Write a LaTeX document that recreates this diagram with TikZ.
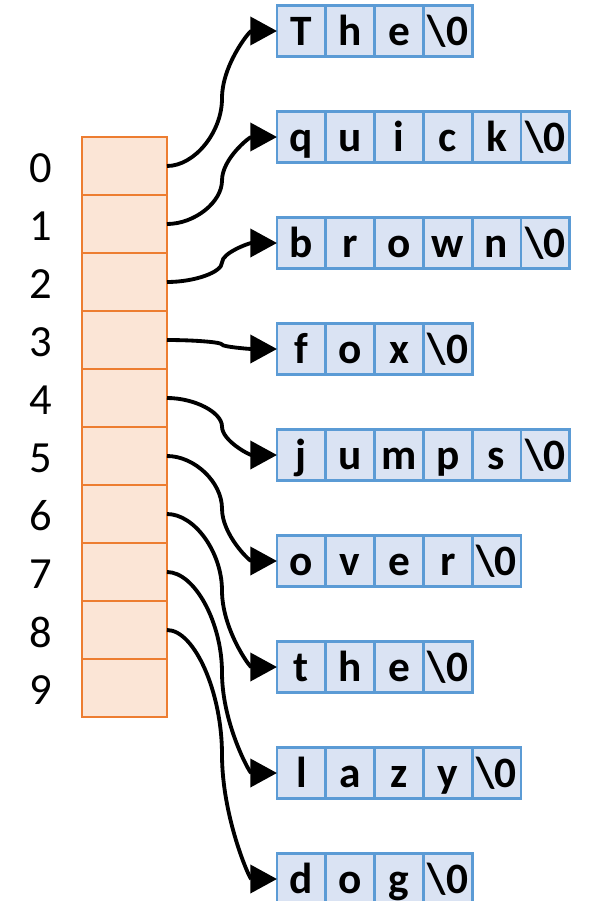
\documentclass[tikz,border=0pt]{standalone}
\usepackage{fontspec}
\setmainfont{Carlito}
\usepackage{tikz}
\usetikzlibrary{arrows.meta}
\usetikzlibrary{calc}
\usetikzlibrary{positioning}

\tikzset{
  slot/.style={shape=rectangle,draw=slotline,fill=slotfill,line width=0.8mm,
    minimum width=25.5mm,minimum height=17.4mm,inner sep=0pt,outer sep=0pt,node distance=0pt},
  chr/.style={shape=rectangle,draw=chrline,fill=chrfill,line width=0.8mm,
    minimum width=14.64mm,minimum height=15.3mm,inner sep=0pt,outer sep=0pt,node distance=0pt,
    font=\fontsize{37}{42}\selectfont\bfseries,text height=30pt,text depth=5.4pt},
  idx/.style={inner sep=0pt,font=\fontsize{38}{44}\selectfont,yshift=-0.6mm},
  ptr/.style={-{Triangle[length=8mm,width=8.4mm]},line width=1.15mm},
  % s-shaped link: flat at both ends, vertical halfway
  elbow/.style={to path={
    let \p1=(\tikztostart), \p2=(\tikztotarget) in
    .. controls ({(3*\x1+\x2)/4},\y1) and ({(\x1+\x2)/2},{(3*\y1+\y2)/4})
    .. ({(\x1+\x2)/2},{(\y1+\y2)/2})
    .. controls ({(\x1+\x2)/2},{(\y1+3*\y2)/4}) and ({(\x1+3*\x2)/4},\y2)
    .. (\tikztotarget)}}
}
\definecolor{slotline}{HTML}{ED7D31}
\definecolor{slotfill}{HTML}{FBE5D6}
\definecolor{chrline}{HTML}{5B9BD5}
\definecolor{chrfill}{HTML}{DAE3F3}

\begin{document}
\begin{tikzpicture}[x=0.3mm,y=-0.3mm]
\useasboundingbox (0,0) rectangle (588,901);

% array of pointers
\node (c0) at (124.5,166) [slot] {};
\node (c1) [slot,below=of c0] {};
\node (c2) [slot,below=of c1] {};
\node (c3) [slot,below=of c2] {};
\node (c4) [slot,below=of c3] {};
\node (c5) [slot,below=of c4] {};
\node (c6) [slot,below=of c5] {};
\node (c7) [slot,below=of c6] {};
\node (c8) [slot,below=of c7] {};
\node (c9) [slot,below=of c8] {};
\node (i0) [idx,left=8.9mm of c0] {0};
\node (i1) [idx,left=8.9mm of c1] {1};
\node (i2) [idx,left=8.9mm of c2] {2};
\node (i3) [idx,left=8.9mm of c3] {3};
\node (i4) [idx,left=8.9mm of c4] {4};
\node (i5) [idx,left=8.9mm of c5] {5};
\node (i6) [idx,left=8.9mm of c6] {6};
\node (i7) [idx,left=8.9mm of c7] {7};
\node (i8) [idx,left=8.9mm of c8] {8};
\node (i9) [idx,left=8.9mm of c9] {9};

% the strings
\node (w0) at (301.4,31) [chr] {T};
\node (w0b) [chr,right=of w0] {h};
\node (w0c) [chr,right=of w0b] {e};
\node (w0d) [chr,right=of w0c] {\textbackslash 0};

\node (w1) at (301.4,137) [chr] {q};
\node (w1b) [chr,right=of w1] {u};
\node (w1c) [chr,right=of w1b] {i};
\node (w1d) [chr,right=of w1c] {c};
\node (w1e) [chr,right=of w1d] {k};
\node (w1f) [chr,right=of w1e] {\textbackslash 0};

\node (w2) at (301.4,243) [chr] {b};
\node (w2b) [chr,right=of w2] {r};
\node (w2c) [chr,right=of w2b] {o};
\node (w2d) [chr,right=of w2c] {w};
\node (w2e) [chr,right=of w2d] {n};
\node (w2f) [chr,right=of w2e] {\textbackslash 0};

\node (w3) at (301.4,349) [chr] {f};
\node (w3b) [chr,right=of w3] {o};
\node (w3c) [chr,right=of w3b] {x};
\node (w3d) [chr,right=of w3c] {\textbackslash 0};

\node (w4) at (301.4,455) [chr] {j};
\node (w4b) [chr,right=of w4] {u};
\node (w4c) [chr,right=of w4b] {m};
\node (w4d) [chr,right=of w4c] {p};
\node (w4e) [chr,right=of w4d] {s};
\node (w4f) [chr,right=of w4e] {\textbackslash 0};

\node (w5) at (301.4,561) [chr] {o};
\node (w5b) [chr,right=of w5] {v};
\node (w5c) [chr,right=of w5b] {e};
\node (w5d) [chr,right=of w5c] {r};
\node (w5e) [chr,right=of w5d] {\textbackslash 0};

\node (w6) at (301.4,667) [chr] {t};
\node (w6b) [chr,right=of w6] {h};
\node (w6c) [chr,right=of w6b] {e};
\node (w6d) [chr,right=of w6c] {\textbackslash 0};

\node (w7) at (301.4,773) [chr] {l};
\node (w7b) [chr,right=of w7] {a};
\node (w7c) [chr,right=of w7b] {z};
\node (w7d) [chr,right=of w7c] {y};
\node (w7e) [chr,right=of w7d] {\textbackslash 0};

\node (w8) at (301.4,879) [chr] {d};
\node (w8b) [chr,right=of w8] {o};
\node (w8c) [chr,right=of w8b] {g};
\node (w8d) [chr,right=of w8c] {\textbackslash 0};

% pointers
\draw[ptr] (c0.east) to[elbow] (w0.west);
\draw[ptr] (c1.east) to[elbow] (w1.west);
\draw[ptr] (c2.east) to[elbow] (w2.west);
\draw[ptr] (c3.east) to[elbow] (w3.west);
\draw[ptr] (c4.east) to[elbow] (w4.west);
\draw[ptr] (c5.east) to[elbow] (w5.west);
\draw[ptr] (c6.east) to[elbow] (w6.west);
\draw[ptr] (c7.east) to[elbow] (w7.west);
\draw[ptr] (c8.east) to[elbow] (w8.west);
\end{tikzpicture}
\end{document}
